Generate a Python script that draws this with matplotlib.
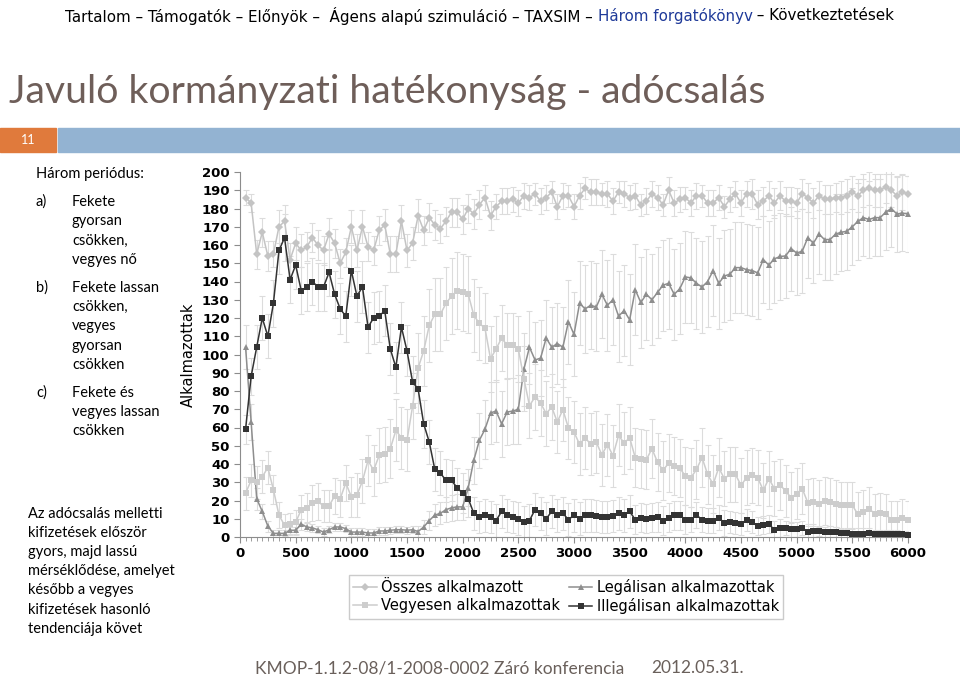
import numpy as np
import matplotlib
matplotlib.use("Agg")
import matplotlib.pyplot as plt
from matplotlib.patches import Rectangle

# x categories: 50 .. 6000, every 50
steps = np.arange(50, 6001, 50)

total = [186, 183, 155, 167, 154, 155, 170, 173, 152, 161,
         157, 159, 164, 160, 157, 166, 161, 150, 156, 170,
         157, 170, 159, 157, 168, 171, 155, 155, 173, 157,
         161, 176, 168, 175, 171, 169, 173, 178, 178, 174,
         180, 177, 182, 186, 176, 181, 184, 184, 185, 183,
         187, 186, 188, 184, 186, 189, 181, 187, 187, 181,
         187, 191, 189, 189, 188, 188, 184, 189, 188, 186,
         187, 182, 184, 188, 186, 182, 190, 183, 185, 186,
         183, 187, 187, 183, 183, 186, 181, 185, 188, 183,
         188, 188, 182, 184, 187, 183, 187, 184, 184, 183,
         188, 186, 183, 187, 185, 185, 186, 186, 187, 189,
         187, 190, 191, 190, 190, 192, 190, 187, 189, 188]

legal = [104, 63, 21, 14, 6, 2, 2, 2, 3.7, 3.7,
         7, 5.5, 5, 4, 2.7, 4, 5.5, 5.5, 4.6, 2.7,
         2.7, 2.7, 2.2, 2.2, 3.3, 3.3, 3.7, 4, 4, 3.7,
         4, 3, 5.5, 9, 12, 13, 15, 16, 16.5, 16.5,
         27, 42, 53, 59, 68, 69, 62, 68.5, 69, 70,
         92, 104, 97, 98, 109, 104, 106, 104, 118, 111,
         128, 125, 127, 126, 133, 127, 130, 121, 124, 119,
         135.5, 128.5, 133, 130, 134, 138, 139, 133, 136, 142.5,
         142, 139, 137, 140, 146, 139, 143, 144, 147.6, 147.6,
         146.5, 146, 144.7, 152, 149, 152.4, 153.7, 154, 158, 155.6,
         156.6, 164, 161, 166, 163, 163, 166, 167, 167.5, 170,
         173, 175, 174, 175, 175, 178, 180, 177, 177.5, 177]

mixed = [24, 31, 30, 33, 38, 26, 12, 6.4, 7, 8,
         15, 16, 18.6, 19.5, 17, 17, 22.5, 21, 29.6, 22,
         23, 30.7, 42, 36.5, 44.7, 45.3, 48.4, 58.4, 54.4, 53,
         71.6, 92.6, 102, 116, 122, 122, 128, 132, 135, 134,
         133, 121.5, 117, 114.5, 97.7, 103, 109, 105, 105, 103,
         86.8, 72, 76.7, 73.4, 67.6, 71.2, 63, 69.8, 59.7, 57.5,
         50.8, 54.4, 50.8, 52, 45, 50.6, 44.6, 55.7, 51.5, 54.4,
         43.5, 43, 42.4, 48.4, 41, 36.5, 40.5, 39, 37.8, 33.4,
         32.5, 37, 43.5, 34.3, 28.9, 38, 32, 34.3, 34.3, 28.3,
         32.5, 33.8, 32.5, 25.6, 32, 26.5, 28.7, 25.2, 21.6, 23.7,
         26.5, 18.8, 19.2, 18.3, 19.7, 19.2, 18.3, 17.4, 17.4, 17.4,
         12.4, 13.7, 15.5, 12.8, 13.2, 12.4, 9.5, 9.5, 10.6, 9.5]

illegal = [59, 88, 104, 120, 110, 128, 157, 164, 141, 149,
           135, 137, 140, 137, 137, 145, 133, 125, 121, 146,
           132, 137, 115, 120, 121, 124, 103, 93, 115, 102,
           85, 81, 62, 52, 37, 35, 31, 31, 27, 24,
           21, 13, 11, 12, 11, 9, 14, 12, 11, 10,
           8, 9, 15, 13, 10, 14, 12, 13, 9.5, 12,
           10, 12, 12, 11.5, 11, 11, 11.5, 13, 12, 14,
           9.5, 10.6, 10, 10.6, 11, 9, 10.6, 12, 12, 9.5,
           9.5, 12, 9.5, 9, 9, 10.6, 7.7, 8, 7.7, 7,
           9.5, 8, 6, 6.4, 7, 4, 5, 5, 4.2, 4.2,
           5, 3, 3.3, 3.3, 2.7, 3, 2.7, 2.2, 2.2, 1.8,
           1.8, 1.8, 2.2, 1.8, 1.8, 1.8, 1.8, 1.8, 1.5, 1.3]

total_err = [4, 5, 8, 8, 8, 7, 9, 9, 9, 9,
             9, 8, 8, 8, 8, 9, 8, 8, 8, 9,
             9, 9, 8, 8, 8, 9, 10, 10, 9, 9,
             9, 9, 8, 8, 8, 8, 8, 8, 8, 8,
             8, 8, 8, 7, 8, 7, 7, 7, 7, 7,
             7, 7, 6, 7, 7, 6, 7, 7, 6, 7,
             7, 6, 7, 7, 6, 7, 7, 6, 7, 7,
             7, 6, 7, 7, 7, 6, 7, 7, 7, 6,
             7, 7, 6, 7, 7, 7, 6, 7, 7, 7,
             7, 8, 8, 8, 8, 8, 8, 8, 8, 8,
             8, 8, 8, 8, 8, 8, 8, 9, 9, 9,
             9, 9, 9, 9, 9, 9, 9, 10, 10, 10]

legal_err = [12, 10, 6, 4, 3, 2, 2, 2, 2, 2,
             3, 2, 2, 2, 2, 2, 2, 2, 2, 2,
             2, 2, 2, 2, 2, 2, 2, 2, 2, 2,
             2, 3, 4, 5, 6, 6, 7, 7, 7, 7,
             10, 13, 15, 16, 17, 17, 18, 18, 18, 19,
             20, 20, 21, 21, 21, 22, 22, 22, 23, 23,
             23, 24, 24, 24, 24, 25, 25, 25, 25, 25,
             25, 25, 25, 25, 25, 25, 25, 25, 25, 25,
             25, 25, 25, 25, 25, 25, 25, 25, 25, 25,
             25, 25, 25, 24, 24, 24, 24, 23, 23, 23,
             23, 22, 22, 22, 22, 22, 22, 21, 21, 21,
             21, 21, 21, 21, 21, 21, 21, 21, 21, 21]

mixed_err = [9, 9, 9, 9, 9, 8, 7, 6, 6, 7,
             8, 8, 10, 10, 9, 9, 10, 10, 10, 11,
             12, 12, 14, 14, 15, 15, 16, 17, 17, 17,
             18, 19, 19, 20, 20, 20, 20, 21, 21, 21,
             21, 20, 20, 19, 18, 18, 18, 18, 18, 18,
             18, 18, 18, 18, 18, 18, 17, 17, 17, 17,
             17, 17, 17, 17, 17, 17, 17, 17, 17, 17,
             16, 16, 16, 16, 16, 16, 16, 16, 16, 16,
             16, 16, 16, 16, 16, 16, 15, 15, 15, 15,
             15, 15, 15, 15, 15, 15, 14, 14, 14, 14,
             14, 13, 13, 13, 13, 13, 13, 13, 13, 13,
             12, 12, 12, 11, 11, 11, 10, 10, 10, 10]

illegal_err = [8, 10, 12, 12, 12, 13, 13, 13, 13, 13,
               13, 13, 13, 13, 13, 13, 13, 14, 14, 14,
               14, 14, 14, 14, 14, 14, 14, 14, 14, 14,
               14, 13, 13, 12, 12, 12, 12, 11, 11, 11,
               10, 9, 9, 9, 9, 9, 9, 9, 9, 9,
               9, 9, 9, 9, 9, 9, 9, 9, 9, 9,
               9, 9, 9, 9, 9, 9, 9, 9, 9, 9,
               8, 8, 8, 8, 8, 8, 8, 8, 8, 8,
               7, 7, 7, 7, 7, 7, 7, 6, 6, 6,
               6, 6, 5, 5, 5, 5, 5, 4, 4, 4,
               4, 4, 4, 3, 3, 3, 3, 3, 3, 3,
               3, 3, 3, 2, 2, 2, 2, 2, 2, 2]

# series order: total, legal, mixed, illegal
labels = ["Összes alkalmazott", "Legálisan alkalmazottak",
          "Vegyesen alkalmazottak", "Illegálisan alkalmazottak"]

nav_parts = ["Tartalom – Támogatók – Előnyök –  Ágens alapú szimuláció – TAXSIM – ",
             "Három forgatókönyv", " – Következtetések"]
nav_colors = ["black", "#1f3a99", "black"]

W, H = 960, 681


def px(x, y):
    return x / W, 1 - y / H


fig = plt.figure(figsize=(9.6, 6.81), dpi=100)
body = ["Lato", "DejaVu Sans"]

# navigation line, middle part in blue; size fitted to the 65..895 px span
renderer = fig.canvas.get_renderer()
probe = fig.text(0, 0, "".join(nav_parts), fontsize=10)
nav_fs = 10 * 830 / probe.get_window_extent(renderer).width
probe.remove()
xpos = 65
for part, col in zip(nav_parts, nav_colors):
    t = fig.text(*px(xpos, 16), part, color=col, fontsize=nav_fs,
                 ha="left", va="center")
    xpos += t.get_window_extent(renderer).width

fig.text(*px(9, 92), "Javuló kormányzati hatékonyság - adócsalás", color="#6e5e59",
         fontsize=28.3, family=body, ha="left", va="center")

fig.patches.append(Rectangle(px(0, 152), 56 / W, 24 / H, transform=fig.transFigure,
                             color="#e07a3c", zorder=0))
fig.patches.append(Rectangle(px(58, 152), (W - 58) / W, 24 / H, transform=fig.transFigure,
                             color="#93b3d2", zorder=0))
fig.text(*px(28, 140), "11", color="white", fontsize=9, family=body, ha="center", va="center")

# left-hand notes
fs = 10.5
fig.text(*px(36, 174), "Három periódus:", fontsize=fs, family=body, va="center")
notes = [("a)", 202, ["Fekete", "gyorsan", "csökken,", "vegyes nő"]),
         ("b)", 288, ["Fekete lassan", "csökken,", "vegyes", "gyorsan", "csökken"]),
         ("c)", 393, ["Fekete és", "vegyes lassan", "csökken"])]
for tag, y0, lines in notes:
    fig.text(*px(36, y0), tag, fontsize=fs, family=body, va="center")
    for k, line in enumerate(lines):
        fig.text(*px(72, y0 + k * 19.2), line, fontsize=fs, family=body, va="center")

summary = ["Az adócsalás melletti", "kifizetések először", "gyors, majd lassú",
           "mérséklődése, amelyet", "később a vegyes", "kifizetések hasonló",
           "tendenciája követ"]
for k, line in enumerate(summary):
    fig.text(*px(28, 514 + k * 19.1), line, fontsize=fs, family=body, va="center")

fig.text(*px(255, 668), "KMOP-1.1.2-08/1-2008-0002 Záró konferencia", color="#6a605b",
         fontsize=12.5, family=body, va="center")
fig.text(*px(651, 668), "2012.05.31.", color="#6a605b", fontsize=12.5, family=body,
         va="center")

# chart
ax = fig.add_axes([240 / W, 1 - 537 / H, (908 - 240) / W, (537 - 172) / H])
series = [(total, total_err, "D", "#c4c4c4", 4.2),
          (legal, legal_err, "^", "#8e8e8e", 4.8),
          (mixed, mixed_err, "s", "#cdcdcd", 4.2),
          (illegal, illegal_err, "s", "#333333", 5.0)]

for vals, err, m, col, ms in series:
    ax.errorbar(steps, vals, yerr=err, fmt="none", ecolor="#dcdcdc", elinewidth=0.8,
                capsize=2.2, capthick=0.8, zorder=1)

handles = []
for z, (vals, err, m, col, ms) in enumerate(series):
    ln, = ax.plot(steps, vals, color=col, marker=m, markersize=ms, linewidth=1.1,
                  markeredgewidth=0, zorder=3 + z, clip_on=False)
    handles.append(ln)

ax.set_xlim(0, 6000)
ax.set_ylim(0, 200)
ax.set_xticks(range(0, 6001, 500))
ax.set_xticks(steps, minor=True)
ax.set_yticks(range(0, 201, 10))
for sp in ["top", "right"]:
    ax.spines[sp].set_visible(False)
for sp in ["left", "bottom"]:
    ax.spines[sp].set_color("#8c8c8c")
ax.tick_params(axis="both", which="major", length=4, color="#8c8c8c", labelsize=9.5)
ax.tick_params(axis="x", which="minor", length=3, color="#8c8c8c")
for lab in ax.get_xticklabels() + ax.get_yticklabels():
    lab.set_fontweight("bold")

fig.text(*px(188, 355), "Alkalmazottak", rotation=90, fontsize=10.5,
         ha="center", va="center")

# two columns: total / mixed on the left, legal / illegal on the right
order = [0, 2, 1, 3]
fig.legend([handles[i] for i in order], [labels[i] for i in order],
           loc="upper left", bbox_to_anchor=px(349, 575), ncol=2, fontsize=10.5,
           frameon=True, fancybox=False, edgecolor="#bfbfbf", borderpad=0.3,
           handlelength=1.6, handletextpad=0.3, columnspacing=0.6, labelspacing=0.2,
           borderaxespad=0)

fig.savefig("out.png", dpi=100)
